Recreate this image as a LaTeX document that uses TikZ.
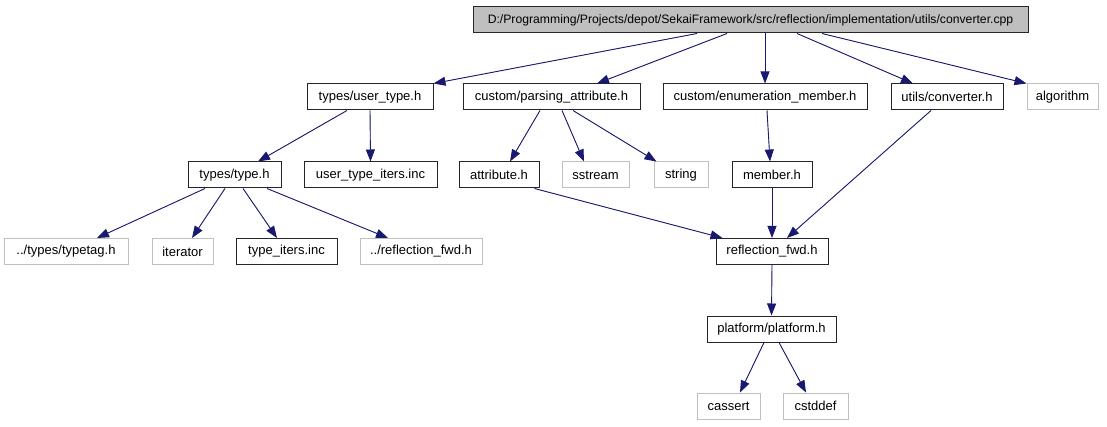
\documentclass[tikz,border=0pt]{standalone}
\usepackage{fontspec}
\setmainfont{Liberation Sans}
\usetikzlibrary{arrows.meta}
\definecolor{edgecol}{HTML}{191970}
\definecolor{grayline}{HTML}{BFBFBF}
\definecolor{rootfill}{HTML}{BFBFBF}
\begin{document}
\begin{tikzpicture}[x=1pt,y=-1pt,
  base/.style={draw,line width=1pt,inner sep=0pt,minimum height=26pt,font=\fontsize{13}{14}\selectfont,anchor=center},
  blk/.style={base,draw=black!85},
  gry/.style={base,draw=grayline},
  rootbox/.style={base,draw=black!85,fill=rootfill,font=\fontsize{12.2}{14}\selectfont},
  e/.style={draw=edgecol,line width=0.9pt,-{Triangle[length=12pt,width=9pt]},fill=edgecol}]
\useasboundingbox (0,0) rectangle (1107,427);
% row 1
\node[rootbox,minimum width=555pt] (root) at (750.5,20) {D:/Programming/Projects/depot/SekaiFramework/src/reflection/implementation/utils/converter.cpp};
% row 2
\node[blk,minimum width=126pt] (ut) at (370,97) {types/user\_type.h};
\node[blk,minimum width=177pt] (pa) at (551.5,97) {custom/parsing\_attribute.h};
\node[blk,minimum width=204pt] (em) at (765,97) {custom/enumeration\_member.h};
\node[blk,minimum width=112pt] (uc) at (947,97) {utils/converter.h};
\node[gry,minimum width=71pt] (alg) at (1062.5,97) {algorithm};
% row 3
\node[blk,minimum width=93pt] (tt) at (234.5,175) {types/type.h};
\node[blk,minimum width=133pt] (uti) at (370.5,175) {user\_type\_iters.inc};
\node[blk,minimum width=80pt] (att) at (499,175) {attribute.h};
\node[gry,minimum width=67pt] (ss) at (595.5,175) {sstream};
\node[gry,minimum width=54pt] (str) at (681,175) {string};
\node[blk,minimum width=80pt] (mem) at (772,175) {member.h};
% row 4
\node[gry,minimum width=124pt] (tg) at (66,251.5) {../types/typetag.h};
\node[gry,minimum width=61pt] (it) at (182.5,251.5) {iterator};
\node[blk,minimum width=101pt] (ti) at (286.5,251.5) {type\_iters.inc};
\node[gry,minimum width=122pt] (rf2) at (421,251.5) {../reflection\_fwd.h};
\node[blk,minimum width=112pt] (rf) at (772,251.5) {reflection\_fwd.h};
% row 5
\node[blk,minimum width=129pt] (pl) at (771.5,329) {platform/platform.h};
% row 6
\node[gry,minimum width=63pt] (ca) at (728.5,406) {cassert};
\node[gry,minimum width=65pt] (cs) at (815.5,406) {cstddef};
% edges
\draw[e] ([xshift=-53.5pt]root.south) -- (ut.north east);
\draw[e] ([xshift=-23.5pt]root.south) -- ([xshift=45.5pt]pa.north);
\draw[e] ([xshift=14.5pt]root.south) -- (em.north);
\draw[e] ([xshift=46.5pt]root.south) -- ([xshift=-34pt]uc.north);
\draw[e] ([xshift=71.5pt]root.south) -- (alg.north west);
\draw[e] ([xshift=-23pt]ut.south) -- ([xshift=23.5pt]tt.north);
\draw[e] (ut.south) -- (uti.north);
\draw[e] ([xshift=-11.5pt]pa.south) -- ([xshift=11pt]att.north);
\draw[e] ([xshift=10.5pt]pa.south) -- ([xshift=-11.5pt]ss.north);
\draw[e] ([xshift=21.5pt]pa.south) -- ([xshift=3pt]str.north west);
\draw[e] ([xshift=2pt]em.south) -- ([xshift=-2pt]mem.north);
\draw[e] ([xshift=-16pt]uc.south) -- ([xshift=15pt]rf.north);
\draw[e] ([xshift=-29.5pt]tt.south) -- ([xshift=31pt]tg.north);
\draw[e] ([xshift=-9.5pt]tt.south) -- ([xshift=9.5pt]it.north);
\draw[e] ([xshift=8.5pt]tt.south) -- ([xshift=-9.5pt]ti.north);
\draw[e] ([xshift=32.5pt]tt.south) -- ([xshift=-33pt]rf2.north);
\draw[e] ([xshift=-5pt]att.south east) -- ([xshift=7pt]rf.north west);
\draw[e] (mem.south) -- (rf.north);
\draw[e] (rf.south) -- (pl.north);
\draw[e] ([xshift=-7.5pt]pl.south) -- ([xshift=11.5pt]ca.north);
\draw[e] ([xshift=7.5pt]pl.south) -- ([xshift=-9.5pt]cs.north);
\end{tikzpicture}
\end{document}
